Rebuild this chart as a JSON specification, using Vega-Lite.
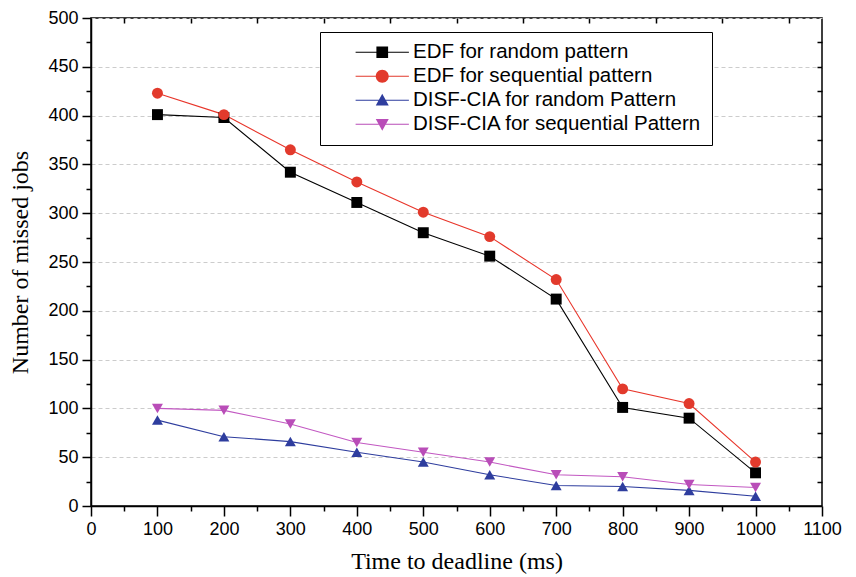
{
  "$schema": "https://vega.github.io/schema/vega-lite/v6.json",
  "autosize": "none",
  "width": 731,
  "height": 488,
  "padding": {"left": 91, "top": 18, "right": 34, "bottom": 71},
  "background": "white",
  "config": {
    "view": {"stroke": "black", "strokeWidth": 1.5},
    "axis": {"labelFont": "Liberation Sans", "labelFontSize": 18, "labelColor": "black", "titleFont": "Liberation Serif", "titleFontSize": 24, "titleFontWeight": "normal", "titleColor": "black", "domainColor": "black", "tickColor": "black", "domainWidth": 1.5, "tickWidth": 1.5}
  },
  "data": {"values": [
    {"t": 100, "s": "EDF for random pattern", "v": 401},
    {"t": 200, "s": "EDF for random pattern", "v": 398},
    {"t": 300, "s": "EDF for random pattern", "v": 342},
    {"t": 400, "s": "EDF for random pattern", "v": 311},
    {"t": 500, "s": "EDF for random pattern", "v": 280},
    {"t": 600, "s": "EDF for random pattern", "v": 256},
    {"t": 700, "s": "EDF for random pattern", "v": 212},
    {"t": 800, "s": "EDF for random pattern", "v": 101},
    {"t": 900, "s": "EDF for random pattern", "v": 90},
    {"t": 1000, "s": "EDF for random pattern", "v": 34},
    {"t": 100, "s": "EDF for sequential pattern", "v": 423},
    {"t": 200, "s": "EDF for sequential pattern", "v": 401},
    {"t": 300, "s": "EDF for sequential pattern", "v": 365},
    {"t": 400, "s": "EDF for sequential pattern", "v": 332},
    {"t": 500, "s": "EDF for sequential pattern", "v": 301},
    {"t": 600, "s": "EDF for sequential pattern", "v": 276},
    {"t": 700, "s": "EDF for sequential pattern", "v": 232},
    {"t": 800, "s": "EDF for sequential pattern", "v": 120},
    {"t": 900, "s": "EDF for sequential pattern", "v": 105},
    {"t": 1000, "s": "EDF for sequential pattern", "v": 45},
    {"t": 100, "s": "DISF-CIA for random Pattern", "v": 88},
    {"t": 200, "s": "DISF-CIA for random Pattern", "v": 71},
    {"t": 300, "s": "DISF-CIA for random Pattern", "v": 66},
    {"t": 400, "s": "DISF-CIA for random Pattern", "v": 55},
    {"t": 500, "s": "DISF-CIA for random Pattern", "v": 45},
    {"t": 600, "s": "DISF-CIA for random Pattern", "v": 32},
    {"t": 700, "s": "DISF-CIA for random Pattern", "v": 21},
    {"t": 800, "s": "DISF-CIA for random Pattern", "v": 20},
    {"t": 900, "s": "DISF-CIA for random Pattern", "v": 16},
    {"t": 1000, "s": "DISF-CIA for random Pattern", "v": 10},
    {"t": 100, "s": "DISF-CIA for sequential Pattern", "v": 100},
    {"t": 200, "s": "DISF-CIA for sequential Pattern", "v": 98},
    {"t": 300, "s": "DISF-CIA for sequential Pattern", "v": 84},
    {"t": 400, "s": "DISF-CIA for sequential Pattern", "v": 65},
    {"t": 500, "s": "DISF-CIA for sequential Pattern", "v": 55},
    {"t": 600, "s": "DISF-CIA for sequential Pattern", "v": 45},
    {"t": 700, "s": "DISF-CIA for sequential Pattern", "v": 32},
    {"t": 800, "s": "DISF-CIA for sequential Pattern", "v": 30},
    {"t": 900, "s": "DISF-CIA for sequential Pattern", "v": 22},
    {"t": 1000, "s": "DISF-CIA for sequential Pattern", "v": 19}
  ]},
  "resolve": {"scale": {"color": "independent", "shape": "independent"}, "axis": {"x": "independent", "y": "independent"}},
  "layer": [
    {
      "mark": {"type": "line", "strokeWidth": 1.1},
      "encoding": {
        "x": {"field": "t", "type": "quantitative", "scale": {"domain": [0, 1100], "nice": false},
          "axis": {"orient": "bottom", "values": [0,100,200,300,400,500,600,700,800,900,1000,1100], "format": "d", "tickSize": 10, "labelPadding": 4, "grid": false, "title": "Time to deadline (ms)", "titlePadding": 11, "labelFlush": false}},
        "y": {"field": "v", "type": "quantitative", "scale": {"domain": [0, 500], "nice": false},
          "axis": {"orient": "left", "values": [0,50,100,150,200,250,300,350,400,450,500], "format": "d", "tickSize": 9, "labelPadding": 4, "grid": true, "gridColor": "#cccccc", "gridDash": [4, 3], "gridWidth": 1, "title": "Number of missed jobs", "titlePadding": 15, "labelFlush": false}},
        "color": {"field": "s", "type": "nominal", "legend": null,
          "scale": {"domain": ["EDF for random pattern", "EDF for sequential pattern", "DISF-CIA for random Pattern", "DISF-CIA for sequential Pattern"], "range": ["#000000", "#e8352a", "#2e3d9e", "#c258c2"]}},
        "order": {"field": "t", "type": "quantitative"}
      }
    },
    {
      "mark": {"type": "point", "filled": true, "opacity": 1, "size": 120},
      "encoding": {
        "x": {"field": "t", "type": "quantitative",
          "axis": {"orient": "top", "values": [50,150,250,350,450,550,650,750,850,950,1050], "tickSize": -5, "labels": false, "domain": false, "grid": false, "title": null}},
        "y": {"field": "v", "type": "quantitative",
          "axis": {"orient": "right", "values": [25,50,75,100,125,150,175,200,225,250,275,300,325,350,375,400,425,450,475], "tickSize": -5, "labels": false, "domain": false, "grid": false, "title": null}},
        "color": {"field": "s", "type": "nominal", "legend": null,
          "scale": {"domain": ["EDF for random pattern", "EDF for sequential pattern", "DISF-CIA for random Pattern", "DISF-CIA for sequential Pattern"], "range": ["#000000", "#e23a2c", "#2e3d9e", "#b94db8"]}},
        "shape": {"field": "s", "type": "nominal", "legend": null,
          "scale": {"domain": ["EDF for random pattern", "EDF for sequential pattern", "DISF-CIA for random Pattern", "DISF-CIA for sequential Pattern"], "range": ["square", "circle", "triangle-up", "triangle-down"]}}
      }
    },
    {
      "transform": [{"filter": "false"}],
      "mark": {"type": "point", "filled": true, "opacity": 1, "size": 169},
      "encoding": {
        "x": {"field": "t", "type": "quantitative",
          "axis": {"orient": "bottom", "values": [50,150,250,350,450,550,650,750,850,950,1050], "tickSize": 5, "labels": false, "domain": false, "grid": false, "title": null}},
        "y": {"field": "v", "type": "quantitative",
          "axis": {"orient": "left", "values": [25,75,125,175,225,275,325,375,425,475], "tickSize": 5, "labels": false, "domain": false, "grid": false, "title": null}},
        "color": {"field": "s", "type": "nominal",
          "scale": {"domain": ["EDF for random pattern", "EDF for sequential pattern", "DISF-CIA for random Pattern", "DISF-CIA for sequential Pattern"], "range": ["#000000", "#e23a2c", "#2e3d9e", "#b94db8"]},
          "legend": {"orient": "none", "legendX": 229, "legendY": 14, "title": " ", "titleOrient": "left", "titleFontSize": 1, "titlePadding": 42, "strokeColor": "black", "fillColor": "white", "padding": 10, "symbolSize": 169, "symbolStrokeWidth": 0, "symbolOpacity": 1, "labelOffset": 20.5, "labelFont": "Liberation Sans", "labelFontSize": 20.5, "labelColor": "black", "rowPadding": 3, "labelLimit": 400}},
        "shape": {"field": "s", "type": "nominal",
          "scale": {"domain": ["EDF for random pattern", "EDF for sequential pattern", "DISF-CIA for random Pattern", "DISF-CIA for sequential Pattern"], "range": [
            "M-4.1,-0.08H4.1V0.08H-4.1Z M-0.9,-0.9H0.9V0.9H-0.9Z",
            "M-4.1,-0.08H4.1V0.08H-4.1Z M-1,0A1,1 0 1,1 1,0A1,1 0 1,1 -1,0Z",
            "M-4.1,-0.08H4.1V0.08H-4.1Z M0,-1L1,0.8L-1,0.8Z",
            "M-4.1,-0.08H4.1V0.08H-4.1Z M0,1L-1,-0.8L1,-0.8Z"]},
          "legend": {"orient": "none", "legendX": 229, "legendY": 14, "title": " ", "titleOrient": "left", "titleFontSize": 1, "titlePadding": 42, "strokeColor": "black", "fillColor": "white", "padding": 10, "symbolSize": 169, "symbolStrokeWidth": 0, "symbolOpacity": 1, "labelOffset": 20.5, "labelFont": "Liberation Sans", "labelFontSize": 20.5, "labelColor": "black", "rowPadding": 3, "labelLimit": 400}}
      }
    }
  ]
}
